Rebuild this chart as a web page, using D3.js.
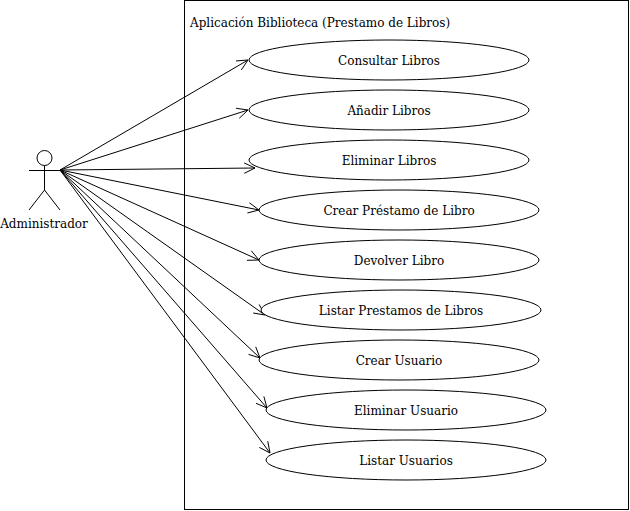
<!DOCTYPE html>
<html>
<head>
<meta charset="utf-8">
<script src="https://cdn.jsdelivr.net/npm/d3@7"></script>
<style>
  body { margin: 0; background: #fff; }
  text { font-family: "DejaVu Serif", serif; font-size: 12px; fill: #000; }
</style>
</head>
<body>
<svg></svg>
<script>
var systemName = "Aplicación Biblioteca (Prestamo de Libros)";
var actorName = "Administrador";
var useCases = [
    "Consultar Libros",
    "Añadir Libros",
    "Eliminar Libros",
    "Crear Préstamo de Libro",
    "Devolver Libro",
    "Listar Prestamos de Libros",
    "Crear Usuario",
    "Eliminar Usuario",
    "Listar Usuarios"
];
// left edge of each ellipse
var caseLeft = [249, 249, 249, 259, 259, 261, 259, 266, 266];
// where each arrow touches its ellipse (offset from left edge / centre)
var tipDx = [-1, -1, 6, 0, 0, 4, 1, 1, 4];
var tipDy = [0, 0, 8, 0, 0, 5, -2, -2, -7];

var width = 630, height = 511;
var svg = d3.select("svg")
    .attr("width", width)
    .attr("height", height);

var rx = 140, ry = 20;
var y = d3.scalePoint()
    .domain(useCases)
    .range([60, 460]);

// system boundary
svg.append("rect")
    .attr("x", 184.5).attr("y", 0.5)
    .attr("width", 444).attr("height", 509)
    .attr("fill", "none").attr("stroke", "#000");

svg.append("text")
    .attr("x", 190).attr("y", 27)
    .text(systemName);

// actor
var hand = { x: 60, y: 170 };
var actor = svg.append("g")
    .attr("fill", "none").attr("stroke", "#000");
actor.append("circle").attr("cx", 44.5).attr("cy", 158).attr("r", 7.5).attr("fill", "#fff");
actor.append("line").attr("x1", 44.5).attr("y1", 165.5).attr("x2", 44.5).attr("y2", 190);
actor.append("line").attr("x1", 29).attr("y1", 170.5).attr("x2", 60).attr("y2", 170.5);
actor.append("line").attr("x1", 44.5).attr("y1", 190).attr("x2", 29).attr("y2", 210);
actor.append("line").attr("x1", 44.5).attr("y1", 190).attr("x2", 60).attr("y2", 210);

svg.append("text")
    .attr("x", 44).attr("y", 228)
    .attr("text-anchor", "middle")
    .text(actorName);

// associations
var links = useCases.map(function(d, i) {
    return { name: d, x: caseLeft[i] + tipDx[i], y: y(d) + tipDy[i] };
});

var link = svg.selectAll(".link")
    .data(links)
    .enter().append("g")
    .attr("class", "link")
    .attr("fill", "none").attr("stroke", "#000");

link.append("line")
    .attr("x1", hand.x).attr("y1", hand.y)
    .attr("x2", function(d) { return d.x; })
    .attr("y2", function(d) { return d.y; });

link.append("path")
    .attr("d", function(d) {
        var a = Math.atan2(d.y - hand.y, d.x - hand.x), len = 12, sp = 0.45;
        var p1 = [d.x - len * Math.cos(a - sp), d.y - len * Math.sin(a - sp)];
        var p2 = [d.x - len * Math.cos(a + sp), d.y - len * Math.sin(a + sp)];
        return "M" + p1 + "L" + d.x + "," + d.y + "L" + p2;
    });

// use cases
var uc = svg.selectAll(".case")
    .data(useCases)
    .enter().append("g")
    .attr("class", "case");

uc.append("ellipse")
    .attr("cx", function(d, i) { return caseLeft[i] + rx; })
    .attr("cy", function(d) { return y(d); })
    .attr("rx", rx).attr("ry", ry)
    .attr("fill", "#fff").attr("stroke", "#000");

uc.append("text")
    .attr("x", function(d, i) { return caseLeft[i] + rx; })
    .attr("y", function(d) { return y(d) + 5; })
    .attr("text-anchor", "middle")
    .text(function(d) { return d; });
</script>
</body>
</html>
